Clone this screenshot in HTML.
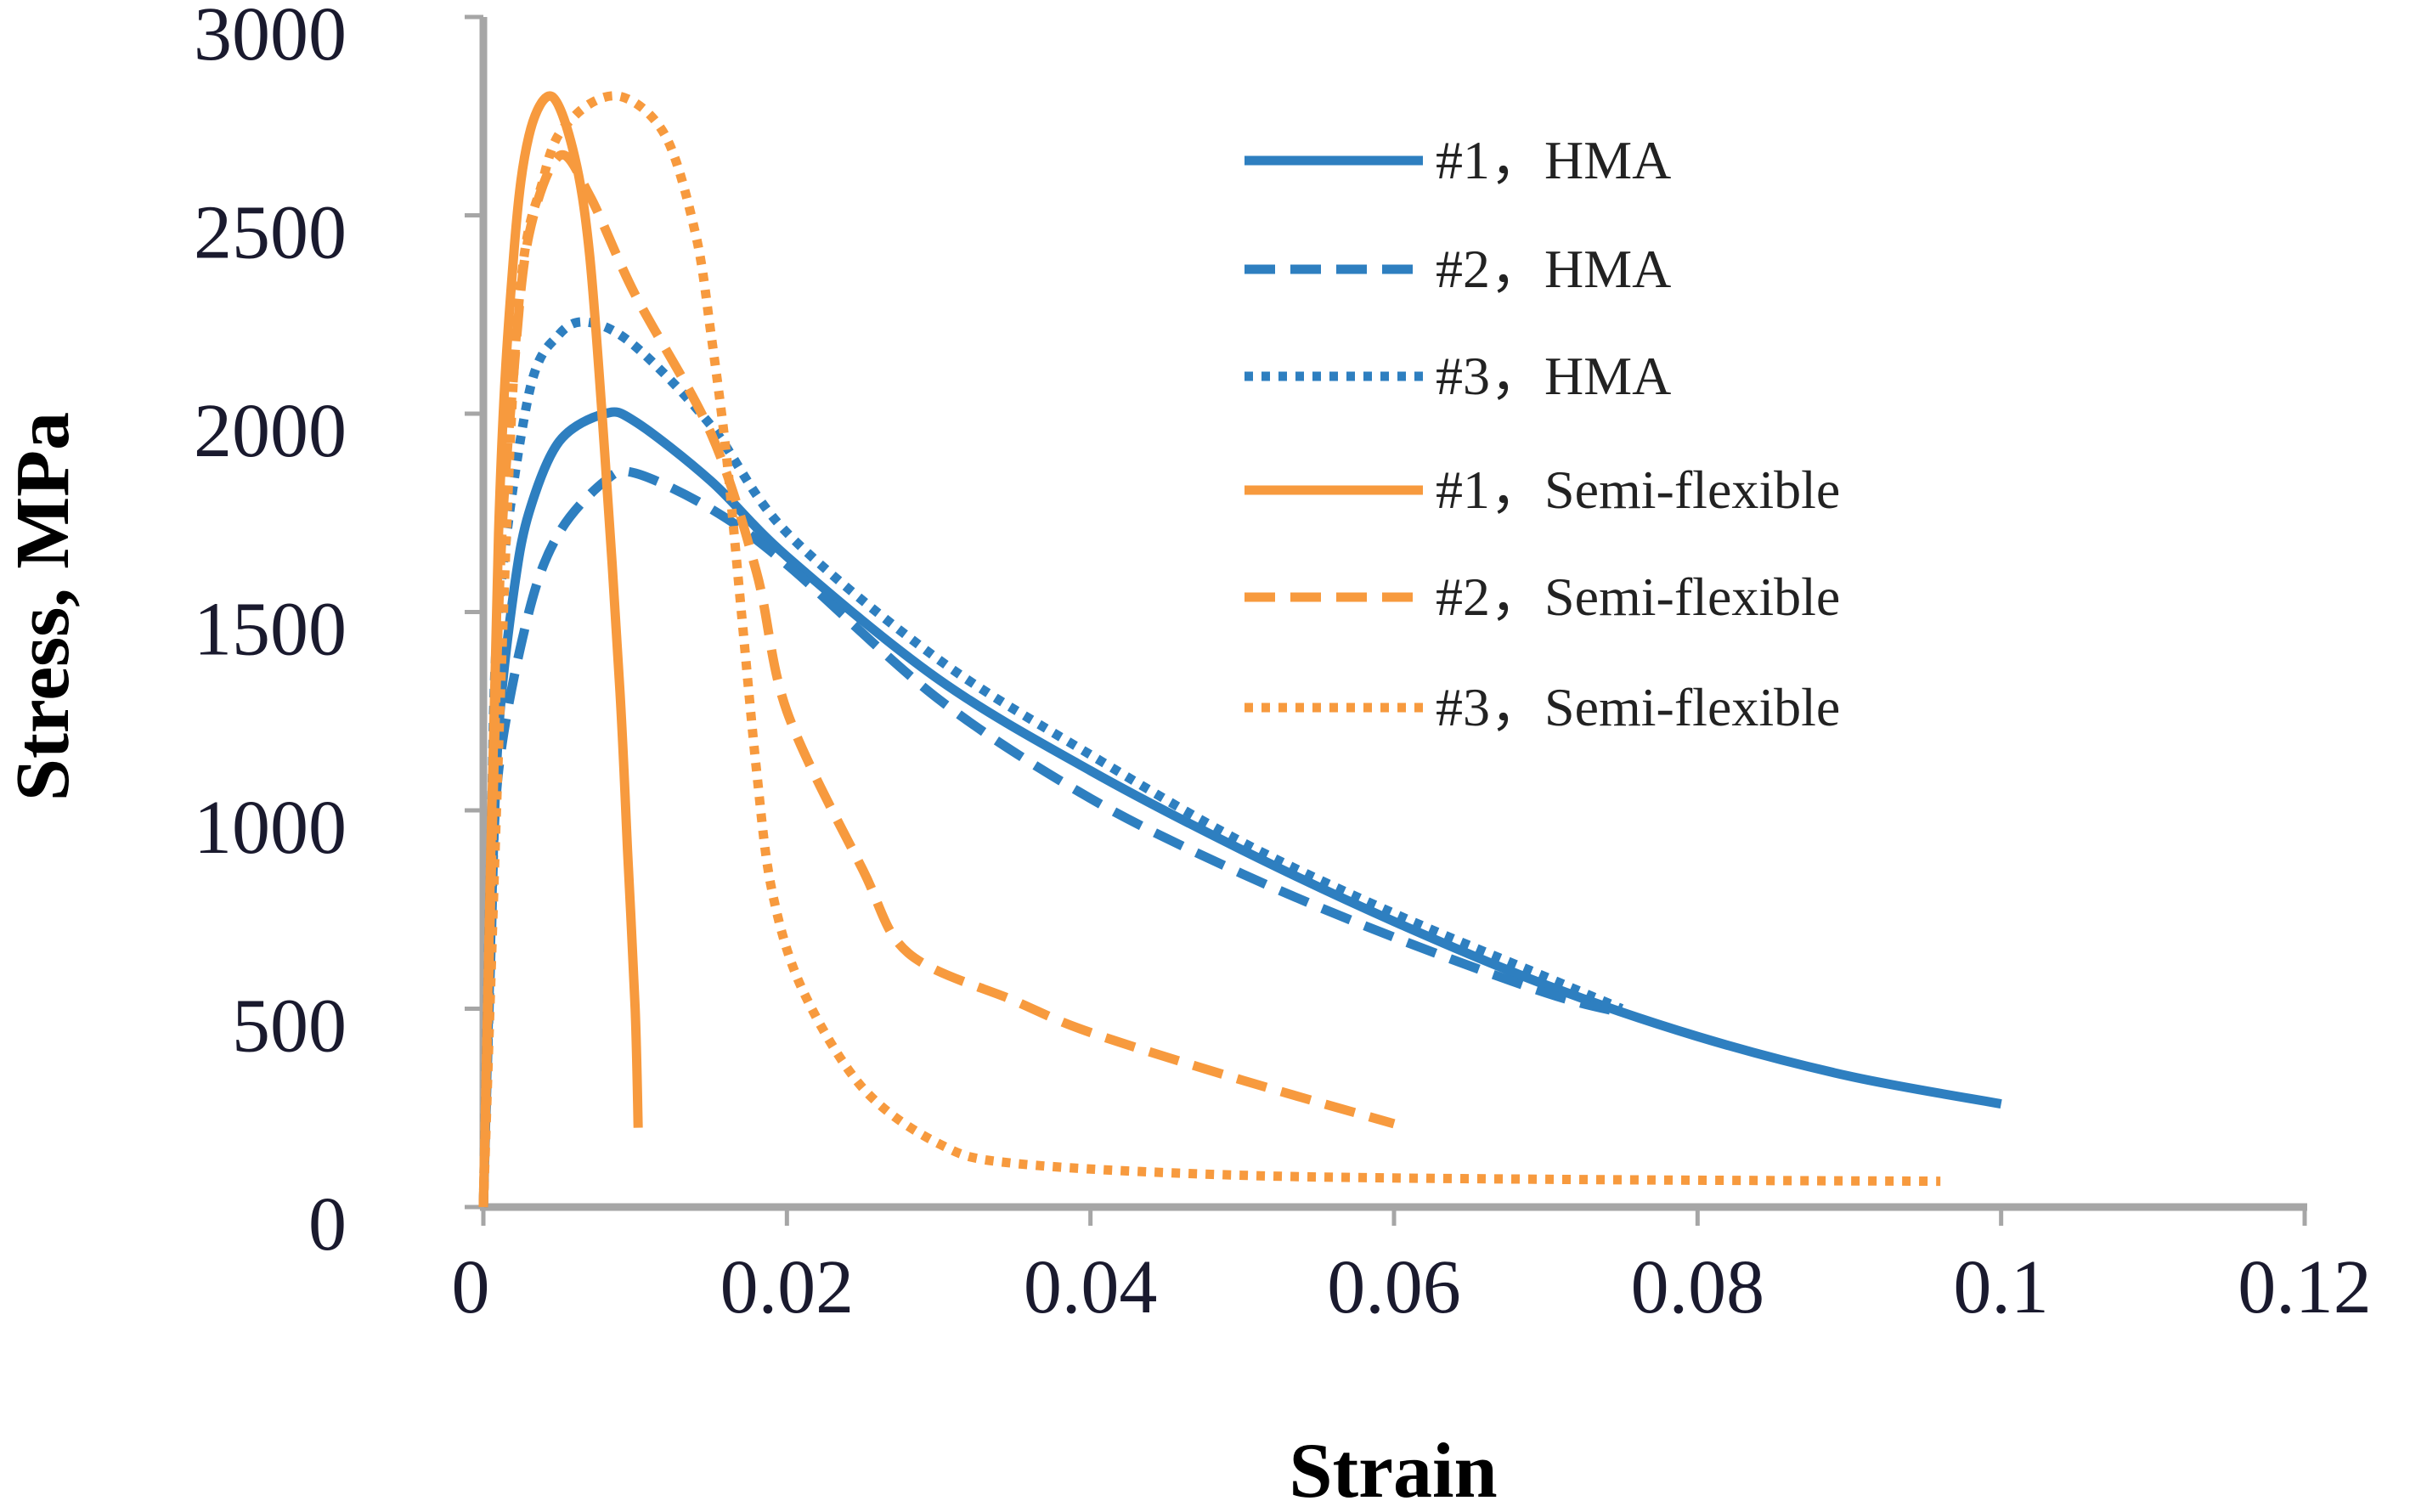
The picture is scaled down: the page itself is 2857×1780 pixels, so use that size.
<!DOCTYPE html>
<html><head><meta charset="utf-8"><style>
html,body{margin:0;padding:0;background:#fff;}
svg{display:block;}
text{font-family:"Liberation Serif",serif;}
</style></head><body>
<svg id="chart" width="2857" height="1780" viewBox="0 0 2857 1780" xmlns="http://www.w3.org/2000/svg">
<g id="grid"></g>
<g id="series"></g>
<g id="legend"></g>
<text x="1640" y="1762" font-size="92" font-weight="bold" text-anchor="middle" fill="#000">Strain</text>
<text transform="translate(80,714) rotate(-90)" font-size="90" font-weight="bold" text-anchor="middle" fill="#000">Stress, MPa</text>
</svg>
<script>
const xTicks=[0,0.02,0.04,0.06,0.08,0.1,0.12];
const xTickLabels=["0","0.02","0.04","0.06","0.08","0.1","0.12"];
const yTicks=[0,500,1000,1500,2000,2500,3000];
const yTickLabels=["0","500","1000","1500","2000","2500","3000"];
const seriesNames=["#1，HMA","#2，HMA","#3，HMA","#1，Semi-flexible","#2，Semi-flexible","#3，Semi-flexible"];
const hma1X=[0,0.0005,0.001,0.002,0.003,0.005,0.008,0.01,0.015,0.02,0.03,0.04,0.05,0.06,0.07,0.08,0.09,0.1];
const hma1Y=[0,700,1200,1550,1750,1930,2000,1980,1830,1640,1330,1100,900,720,560,430,330,260];
const hma2X=[0,0.0005,0.001,0.003,0.005,0.008,0.01,0.015,0.02,0.03,0.04,0.05,0.06,0.07,0.075];
const hma2Y=[0,650,1100,1500,1700,1830,1850,1760,1620,1280,1030,840,680,540,490];
const hma3X=[0,0.0005,0.001,0.003,0.005,0.007,0.01,0.015,0.02,0.03,0.04,0.05,0.06,0.07,0.075];
const hma3Y=[0,900,1500,2050,2200,2230,2170,1970,1700,1380,1140,920,740,580,500];
const sf1X=[0,0.001,0.002,0.003,0.0045,0.006,0.007,0.008,0.009,0.0095,0.01,0.0102];
const sf1Y=[0,1700,2400,2700,2800,2650,2400,1900,1300,900,500,200];
const sf2X=[0,0.001,0.002,0.003,0.005,0.007,0.01,0.015,0.018,0.02,0.025,0.028,0.035,0.04,0.05,0.06];
const sf2Y=[0,1500,2100,2450,2650,2550,2300,1950,1600,1250,850,640,520,440,320,210];
const sf3X=[0,0.002,0.004,0.006,0.009,0.012,0.014,0.015,0.016,0.017,0.018,0.019,0.021,0.025,0.03,0.035,0.05,0.07,0.096];
const sf3Y=[0,2100,2600,2750,2800,2700,2450,2200,1900,1500,1100,800,550,300,160,110,80,70,65];

const NS="http://www.w3.org/2000/svg";
const X0=569,X1=2713,Y0=1421,Y1=20;
function sx(v){return X0+(v/0.12)*(X1-X0);}
function sy(v){return Y0-(v/3000)*(Y0-Y1);}
function mk(tag,attrs,parent){const e=document.createElementNS(NS,tag);for(const k in attrs)e.setAttribute(k,attrs[k]);parent.appendChild(e);return e;}
function smooth(xs,ys){
 const P=xs.map((x,i)=>[sx(x),sy(ys[i])]);
 let d='M'+P[0][0].toFixed(1)+','+P[0][1].toFixed(1);
 for(let i=0;i<P.length-1;i++){
  const p0=P[Math.max(0,i-1)],p1=P[i],p2=P[i+1],p3=P[Math.min(P.length-1,i+2)];
  const t=0.16;
  const c1=[p1[0]+(p2[0]-p0[0])*t,p1[1]+(p2[1]-p0[1])*t];
  const c2=[p2[0]-(p3[0]-p1[0])*t,p2[1]-(p3[1]-p1[1])*t];
  d+=' C'+c1.map(v=>v.toFixed(1)).join(',')+' '+c2.map(v=>v.toFixed(1)).join(',')+' '+p2.map(v=>v.toFixed(1)).join(',');
 }
 return d;
}
const grid=document.getElementById('grid');
let l=mk('line',{x1:sx(0),y1:sy(0),x2:sx(0),y2:sy(3000),stroke:'#a6a6a6','stroke-width':9},grid);


l=mk('line',{x1:sx(0)-4,y1:sy(0),x2:sx(0.12)+3,y2:sy(0),stroke:'#a6a6a6','stroke-width':9},grid);


yTicks.forEach((v,i)=>{
 let t=mk('line',{x1:sx(0)-22,y1:sy(v),x2:sx(0),y2:sy(v),stroke:'#a6a6a6','stroke-width':5},grid);
 
 
 let tx=mk('text',{x:408,y:sy(v)+50,'font-size':90,'text-anchor':'end',fill:'#1a1a2e'},grid);
 tx.textContent=yTickLabels[i];
 
 
});
xTicks.forEach((v,i)=>{
 let t=mk('line',{x1:sx(v),y1:sy(0),x2:sx(v),y2:sy(0)+22,stroke:'#a6a6a6','stroke-width':5},grid);
 
 
 let tx=mk('text',{x:sx(v)-(i===0?15:0),y:1545,'font-size':90,'text-anchor':'middle',fill:'#1a1a2e'},grid);
 tx.textContent=xTickLabels[i];
 
 
});
const BLUE='#2e7fc0',ORANGE='#f79a3e';
const defs=[[hma1X,hma1Y,BLUE,'none','hma-1'],[hma2X,hma2Y,BLUE,'36 18','hma-2'],[hma3X,hma3Y,BLUE,'10 10','hma-3'],
[sf1X,sf1Y,ORANGE,'none','semi-flexible-1'],[sf2X,sf2Y,ORANGE,'36 18','semi-flexible-2'],[sf3X,sf3Y,ORANGE,'10 10','semi-flexible-3']];
const sg=document.getElementById('series');
defs.forEach(d=>{
 const p=mk('path',{d:smooth(d[0],d[1]),fill:'none',stroke:d[2],'stroke-width':11,'stroke-dasharray':d[3],'stroke-linejoin':'round'},sg);
 
 
});
const lg=document.getElementById('legend');
const rowY=[189,317,443,577,703,833];
defs.forEach((d,i)=>{
 const ln=mk('line',{x1:1465,y1:rowY[i],x2:1675,y2:rowY[i],stroke:d[2],'stroke-width':11,'stroke-dasharray':d[3]},lg);
 
 
 const tx=mk('text',{x:1690,y:rowY[i]+21,'font-size':64,fill:'#222'},lg);
 tx.textContent=seriesNames[i];
 
 
});
</script>
</body></html>
